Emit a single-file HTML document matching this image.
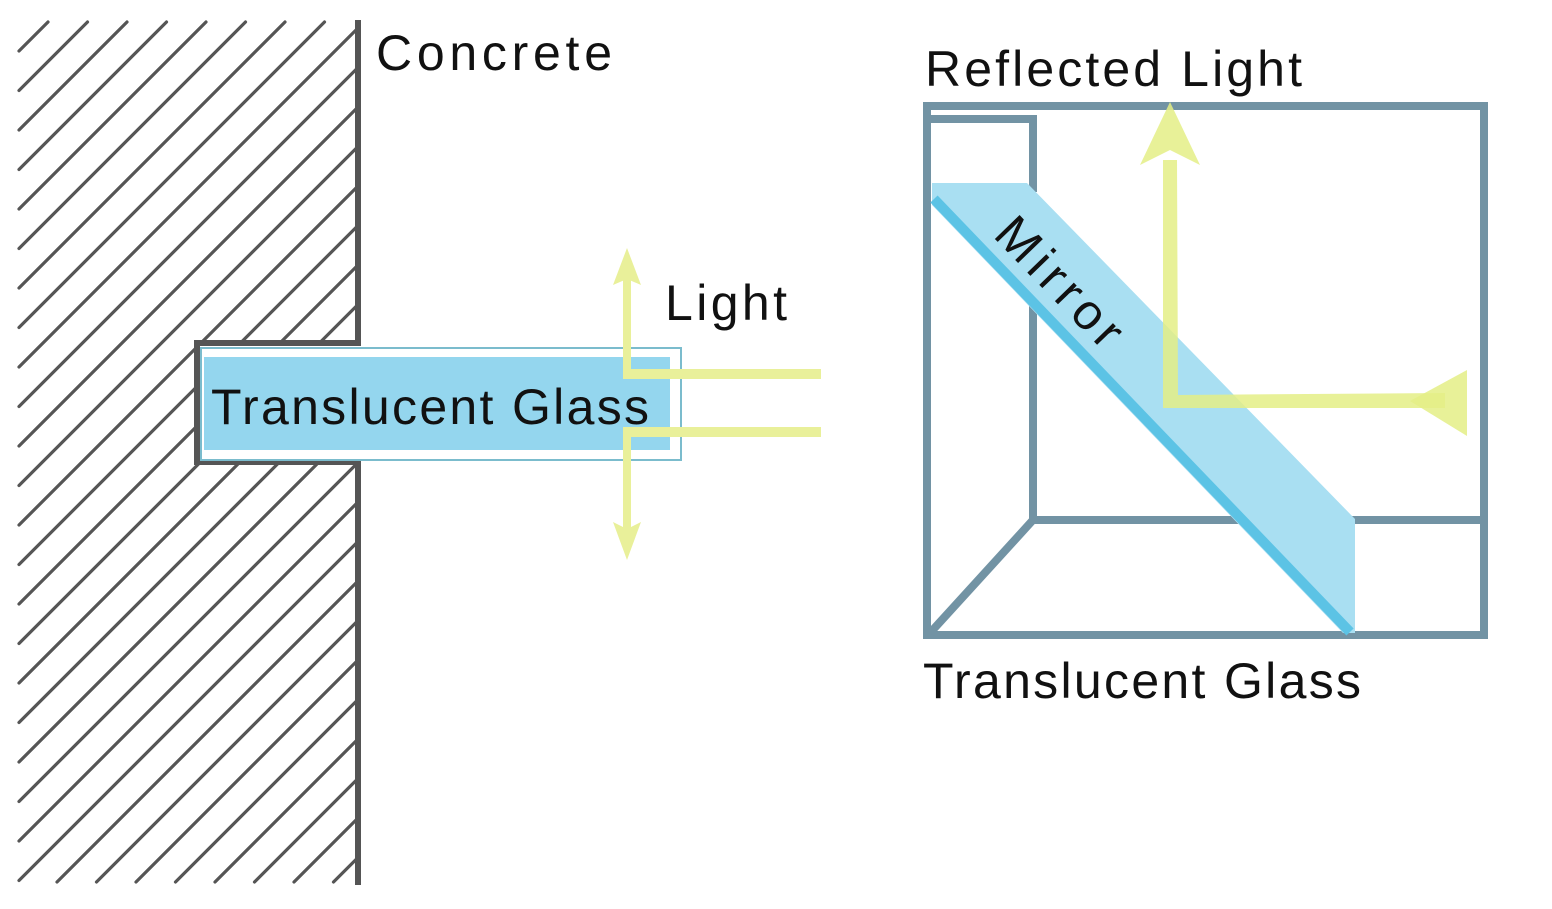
<!DOCTYPE html>
<html><head><meta charset="utf-8"><style>
html,body{margin:0;padding:0;background:#fff;width:1552px;height:909px;overflow:hidden;}
svg{display:block;}
text{font-family:"Liberation Sans",sans-serif;fill:#111;}
</style></head><body>
<svg width="1552" height="909" viewBox="0 0 1552 909">
<g id="hatch" stroke="#555" stroke-width="3.2" stroke-linecap="round"></g>
<rect x="197" y="343" width="161" height="119" fill="#fff"/>
<path d="M358 20 V343 H197 V462 H358 V885" fill="none" stroke="#555" stroke-width="6"/>
<text x="376" y="70" font-size="50" textLength="236">Concrete</text>

<rect x="201" y="348" width="480" height="112" fill="#fff" stroke="#7bbccd" stroke-width="2"/>
<rect x="204" y="357" width="466" height="93" fill="#94d6ee"/>
<text x="211" y="424" font-size="50" textLength="438">Translucent Glass</text>

<g fill="#e9f09a" stroke="none">
<rect x="624" y="369" width="197" height="10"/>
<rect x="624" y="427" width="197" height="10"/>
<rect x="623" y="275" width="8" height="104"/>
<rect x="623" y="427" width="8" height="110"/>
<polygon points="627,248 641,285 627,279 613,285"/>
<polygon points="627,560 641,522 627,529 613,522"/>
</g>
<text x="665" y="320" font-size="50" textLength="122">Light</text>

<text x="925" y="86" font-size="50" textLength="377">Reflected Light</text>
<g fill="none" stroke="#7293a4" stroke-width="8">
<rect x="927" y="106" width="557" height="529"/>
<path d="M928 119 H1033 V192"/>
<path d="M1033 305 V520 L930 633"/>
<path d="M1033 520 H1487"/>
</g>
<polygon points="932,183 1027,183 1355,519 1355,633 1343,633 932,205" fill="#a9dff2"/>
<line x1="934" y1="199" x2="1350" y2="632" stroke="#5cc3e5" stroke-width="10"/>
<text x="0" y="0" font-size="50" textLength="160" transform="translate(992,236) rotate(46)">Mirror</text>
<g fill="#e4ee86" fill-opacity="0.85">
<polygon points="1163,160 1177,160 1178,395 1445,393 1445,408 1163,408"/>
<polygon points="1170,102 1200,165 1170,150 1140,165"/>
<polygon points="1410,401 1467,370 1467,436"/>
</g>
<text x="923" y="698" font-size="50" textLength="438">Translucent Glass</text>
</svg>
<script>
var g=document.getElementById('hatch');
var X0=19,X1=356,Y0=22,Y1=882;
for(var c=70;c<X1+Y1;c+=39.5){
  var xs=Math.max(X0,c-Y1), xe=Math.min(X1,c-Y0);
  if(xe<=xs) continue;
  var l=document.createElementNS('http://www.w3.org/2000/svg','line');
  l.setAttribute('x1',xs);l.setAttribute('y1',c-xs);
  l.setAttribute('x2',xe);l.setAttribute('y2',c-xe);
  
  
  g.appendChild(l);
}
</script>
</body></html>
